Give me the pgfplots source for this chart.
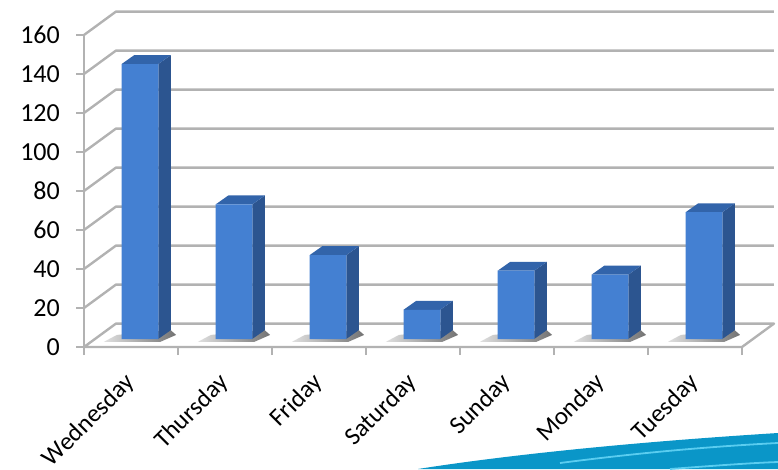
\documentclass[border=0pt]{standalone}
\usepackage{pgfplots}
\pgfplotsset{compat=1.18}
\usepackage{fontspec}
\setmainfont{Carlito}
\definecolor{barfront}{RGB}{68,128,210}
\definecolor{bartop}{RGB}{50,100,170}
\definecolor{barside}{RGB}{44,85,144}
\definecolor{gridc}{RGB}{178,178,178}
\definecolor{swoosh}{RGB}{10,150,200}
\definecolor{swooshl}{RGB}{90,205,240}
\pgfplotstableread{
x v
0.595 141
1.595 69
2.595 43
3.595 15
4.595 35
5.595 33
6.595 65
}\barvalues
\begin{document}
\begin{tikzpicture}[x=1pt,y=1pt]
\useasboundingbox (0,0) rectangle (778,469);
% decorative band of the slide behind the chart
\fill[swoosh] (418,0) .. controls (520,16) and (650,28) .. (778,36) -- (778,0) -- cycle;
\draw[swooshl,line width=1.8pt] (560,6) .. controls (630,15) and (700,22) .. (778,26);
\draw[swooshl,line width=1.8pt] (670,0) .. controls (710,3) and (750,6) .. (778,7);
\begin{axis}[
  at={(84pt,122pt)}, anchor=south west,
  scale only axis, width=690pt, height=335pt,
  xmin=0, xmax=7.3404, ymin=0, ymax=171.79,
  axis x line=bottom, axis y line=left,
  axis line style={draw=none, -},
  xtick={0,1,2,3,4,5,6,7},
  x tick label as interval=true,
  xticklabels={Wednesday,Thursday,Friday,Saturday,Sunday,Monday,Tuesday},
  ytick={0,20,40,60,80,100,120,140,160},
  tick align=outside, major tick length=8pt,
  tick style={draw=gridc, line width=1.6pt},
  tick label style={font=\fontsize{26}{26}\selectfont, text=black},
  /pgf/number format/assume math mode=true,
  x tick label style={font=\fontsize{25}{25}\selectfont, rotate=45, anchor=north east, inner sep=0pt, yshift=-6pt, xshift=-17pt},
  y tick label style={inner sep=0pt, xshift=-16pt},
  clip=false,
  grid=none,
]
% gridlines on side wall and back wall
\pgfplotsset{gl/.style={draw=gridc, line width=2.4pt, forget plot, line join=round}}
\addplot[gl] coordinates {(0,0)(7,0)(7.34,12)(0.34,12)(0,0)};
\addplot[gl] coordinates {(0,0)(0,160)};
\addplot[gl] coordinates {(0,20)(0.34,32)(7.34,32)};
\addplot[gl] coordinates {(0,40)(0.34,52)(7.34,52)};
\addplot[gl] coordinates {(0,60)(0.34,72)(7.34,72)};
\addplot[gl] coordinates {(0,80)(0.34,92)(7.34,92)};
\addplot[gl] coordinates {(0,100)(0.34,112)(7.34,112)};
\addplot[gl] coordinates {(0,120)(0.34,132)(7.34,132)};
\addplot[gl] coordinates {(0,140)(0.34,152)(7.34,152)};
\addplot[gl] coordinates {(0,160)(0.34,172)(7.34,172)};
% floor shadows
\pgfplotsset{sh/.style={draw=none, left color=black!12, right color=black!55, forget plot}}
\addplot[sh] coordinates {(0.21,2.6)(0.81,2.6)(0.98,6.2)(0.92,8.7)(0.35,6.2)} -- cycle;
\addplot[sh] coordinates {(1.21,2.6)(1.81,2.6)(1.98,6.2)(1.92,8.7)(1.35,6.2)} -- cycle;
\addplot[sh] coordinates {(2.21,2.6)(2.81,2.6)(2.98,6.2)(2.92,8.7)(2.35,6.2)} -- cycle;
\addplot[sh] coordinates {(3.21,2.6)(3.81,2.6)(3.98,6.2)(3.92,8.7)(3.35,6.2)} -- cycle;
\addplot[sh] coordinates {(4.21,2.6)(4.81,2.6)(4.98,6.2)(4.92,8.7)(4.35,6.2)} -- cycle;
\addplot[sh] coordinates {(5.21,2.6)(5.81,2.6)(5.98,6.2)(5.92,8.7)(5.35,6.2)} -- cycle;
\addplot[sh] coordinates {(6.21,2.6)(6.81,2.6)(6.98,6.2)(6.92,8.7)(6.35,6.2)} -- cycle;
% right side faces and top faces of the bars
\pgfplotsset{sd/.style={draw=none, fill=barside, yshift=8pt, forget plot},
             tp/.style={draw=none, fill=bartop, yshift=8pt, forget plot}}
\addplot[sd] coordinates {(0.79,0)(0.925,4.6)(0.925,145.6)(0.79,141)} -- cycle;
\addplot[tp] coordinates {(0.40,141)(0.79,141)(0.925,145.6)(0.535,145.6)} -- cycle;
\addplot[sd] coordinates {(1.79,0)(1.925,4.6)(1.925,73.6)(1.79,69)} -- cycle;
\addplot[tp] coordinates {(1.40,69)(1.79,69)(1.925,73.6)(1.535,73.6)} -- cycle;
\addplot[sd] coordinates {(2.79,0)(2.925,4.6)(2.925,47.6)(2.79,43)} -- cycle;
\addplot[tp] coordinates {(2.40,43)(2.79,43)(2.925,47.6)(2.535,47.6)} -- cycle;
\addplot[sd] coordinates {(3.79,0)(3.925,4.6)(3.925,19.6)(3.79,15)} -- cycle;
\addplot[tp] coordinates {(3.40,15)(3.79,15)(3.925,19.6)(3.535,19.6)} -- cycle;
\addplot[sd] coordinates {(4.79,0)(4.925,4.6)(4.925,39.6)(4.79,35)} -- cycle;
\addplot[tp] coordinates {(4.40,35)(4.79,35)(4.925,39.6)(4.535,39.6)} -- cycle;
\addplot[sd] coordinates {(5.79,0)(5.925,4.6)(5.925,37.6)(5.79,33)} -- cycle;
\addplot[tp] coordinates {(5.40,33)(5.79,33)(5.925,37.6)(5.535,37.6)} -- cycle;
\addplot[sd] coordinates {(6.79,0)(6.925,4.6)(6.925,69.6)(6.79,65)} -- cycle;
\addplot[tp] coordinates {(6.40,65)(6.79,65)(6.925,69.6)(6.535,69.6)} -- cycle;
% front faces
\addplot[ybar, bar width=36.7pt, bar shift=0pt, draw=none, fill=barfront, yshift=8pt, forget plot]
  table[x=x, y=v] {\barvalues};
\end{axis}
\end{tikzpicture}
\end{document}
